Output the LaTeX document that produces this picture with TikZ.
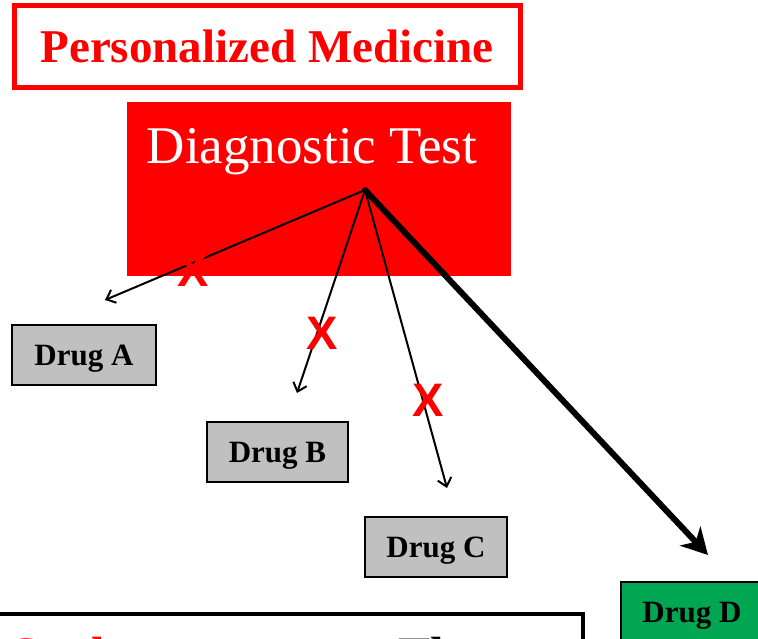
\documentclass[tikz,border=0pt]{standalone}
\usepackage{fontspec}
\setmainfont{Liberation Serif}
\newfontfamily\marksans{Liberation Sans}
\usetikzlibrary{arrows.meta}
\definecolor{druggray}{RGB}{192,192,192}
\definecolor{druggreen}{RGB}{0,166,81}

\begin{document}
\begin{tikzpicture}[x=1pt, y=-1pt,
    drugbox/.style={draw=black, line width=2pt, fill=druggray, minimum width=142pt, minimum height=60pt, inner sep=0pt, text height=20pt, text depth=0pt, font=\fontsize{31}{31}\selectfont\bfseries},
    xmark/.style={text=red, inner sep=0pt, font=\marksans\fontsize{47}{47}\selectfont\bfseries},
    thinarrow/.style={line width=2pt, -{Straight Barb[length=8pt, width=14pt]}}]
    % Frame
    \clip (0,0) rectangle (758,638);

    % Title
    \node[draw=red, line width=5pt, minimum width=506pt, minimum height=82pt, inner sep=0pt, text=red, font=\fontsize{47}{47}\selectfont\bfseries] (title) at (267,46.5) {Personalized Medicine};

    % Diagnostic test
    \node[fill=red, minimum width=384pt, minimum height=174pt, inner sep=0pt] (test) at (319,189) {};
    \node[text=white, anchor=base, inner sep=0pt, font=\fontsize{53}{53}\selectfont] (testlabel) at (312,163) {Diagnostic Test};
    \coordinate (hub) at (365,190);

    % Drugs
    \node[drugbox, minimum width=144pt] (drugA) at (84,355) {Drug A};
    \node[drugbox, minimum width=141pt] (drugB) at (277.5,452) {Drug B};
    \node[drugbox] (drugC) at (436,547) {Drug C};
    \node[drugbox, fill=druggreen] (drugD) at (692,612) {Drug D};

    % Arrows
    \coordinate (tipA) at (105,300);
    \coordinate (tipB) at (297,393);
    \coordinate (tipC) at (447,488);
    \coordinate (tipD) at (708,555);
    \draw[thinarrow] (hub) -- (tipA);
    \draw[thinarrow] (hub) -- (tipB);
    \draw[thinarrow] (hub) -- (tipC);
    \draw[line width=6pt, line cap=round, -{Stealth[length=26pt, width=28pt, inset=8pt]}] (hub) -- (tipD);

    % X marks
    \node[xmark] (xA) at (193,270) {X};
    \node[xmark] (xB) at (322,333) {X};
    \node[xmark] (xC) at (428,400) {X};

    % Bottom box
    \draw[line width=4pt] (-10,614) rectangle (583,720);
    \node[anchor=base west, inner sep=0pt, text=red, font=\fontsize{48}{48}\selectfont\bfseries] (goal) at (6,670) {Goal:};
    \node[anchor=base west, inner sep=0pt, font=\fontsize{48}{48}\selectfont\bfseries] (the) at (398,670) {The};
\end{tikzpicture}
\end{document}
